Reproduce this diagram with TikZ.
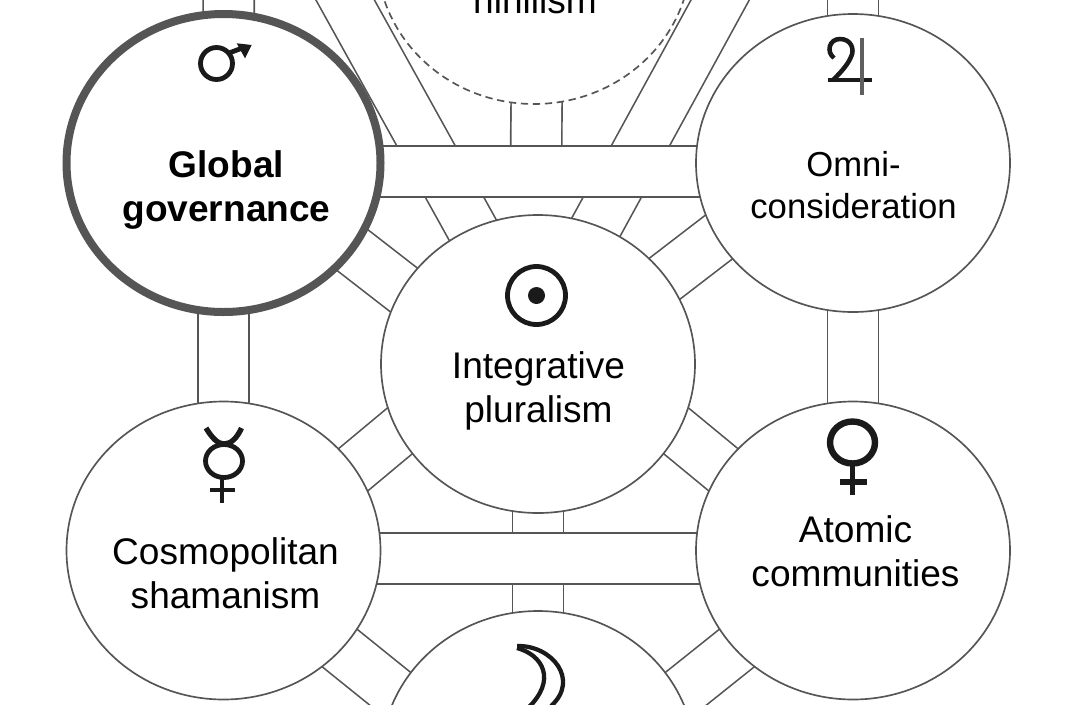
\documentclass[tikz,border=0pt]{standalone}
\usepackage{fontspec}
\setmainfont{Liberation Sans}
\usetikzlibrary{shapes.geometric,backgrounds}
\definecolor{linegray}{HTML}{555555}
\definecolor{signblack}{HTML}{1A1A1A}
\tikzset{
  planet/.style={ellipse, draw=linegray, fill=white, line width=1.25pt, inner sep=0pt, outer sep=0pt, minimum width=235.5pt, minimum height=223.5pt},
  channel/.style={draw=linegray, line width=1.25pt, double=white, double distance=37pt, shorten <=-20pt, shorten >=-20pt},
  caption/.style={align=center, inner sep=0pt, font=\fontsize{27.8}{33}\selectfont},
  sign/.style={draw=signblack, line width=3.6pt}
}
\begin{document}
\begin{tikzpicture}[x=0.75pt, y=-0.75pt]
            \useasboundingbox (0,0) rectangle (1070,704);
            \clip (0,0) rectangle (1070,704);

            % Nodes
            \node[planet, dashed, dash pattern=on 5.5pt off 3.5pt] (nihilism) at (534,-45) {};
            \node[planet, line width=6pt] (global) at (223.5,163) {};
            \node[planet] (omni) at (853,163) {};
            \node[planet] (integrative) at (538,364) {};
            \node[planet] (cosmo) at (223.5,550.5) {};
            \node[planet] (atomic) at (853,550.5) {};
            \node[planet] (bottom) at (538,760) {};

            % Free ends
            \coordinate (globalfree) at (228.7,-30);
            \coordinate (omnifree) at (853,-30);
            \coordinate (leftfree) at (323,-40);
            \coordinate (rightfree) at (742,-40);
            \coordinate (nihilismfoot) at (536,160);

            % Edges
            \begin{scope}[on background layer]
            \draw[channel] (globalfree) -- (global.88);
            \draw[channel] (omnifree) -- (omni.north);
            \draw[channel] (leftfree) -- (integrative.116);
            \draw[channel] (rightfree) -- (integrative.67);
            \draw[channel] (nihilism.-89) -- (nihilismfoot);
            \draw[channel] (global.-34) -- (integrative.151);
            \draw[channel] (omni.-151) -- (integrative.34);
            \draw[channel] (cosmo.32) -- (integrative.206);
            \draw[channel] (atomic.148) -- (integrative.-26);
            \draw[channel] (cosmo.-40) -- (bottom.155);
            \draw[channel] (atomic.-140) -- (bottom.25);
            \draw[channel] (integrative.south) -- (bottom.north);
            \draw[channel] (global.south) -- (cosmo.north);
            \draw[channel] (omni.south) -- (atomic.north);
            \draw[channel] (global.-3) -- (omni.183);
            \draw[channel] (cosmo.-3) -- (atomic.183);
            \end{scope}

            % Labels
            \node[caption, anchor=base] (nihilismtext) at (535,13) {nihilism};
            \node[caption, font=\fontsize{27.8}{33}\selectfont\bfseries] (globaltext) at (226.5,189.5) {Global\\governance};
            \node[caption, font=\fontsize{26}{31.5}\selectfont] (omnitext) at (853.5,185.5) {Omni-\\consideration};
            \node[caption] (integrativetext) at (538.5,391) {Integrative\\pluralism};
            \node[caption] (cosmotext) at (225.5,573.5) {Cosmopolitan\\shamanism};
            \node[caption] (atomictext) at (855.5,551.5) {Atomic\\communities};

            % Mars
            \draw[sign] (216.5,63.5) circle (16);
            \draw[sign] (229,53) -- (245,47);
            \fill[signblack] (236.7,43.3) -- (251.7,45) -- (245,58.3) -- cycle;

            % Jupiter
            \draw[sign, line width=3.4pt] (834,58) .. controls (826,52) and (829,39) .. (840,39) .. controls (851,39) and (855,49) .. (851,57) .. controls (847,66) and (840,73) .. (833,80);
            \draw[sign, line width=2.6pt] (828,80) -- (872,80);
            \draw[sign, line width=3pt, draw=signblack!70] (861.7,38) -- (861.7,95);

            % Sun
            \draw[sign] (536.5,295.5) circle (29);
            \fill[signblack] (536.5,295.5) circle (8.5);

            % Mercury
            \draw[sign, line width=4pt] (206,428) .. controls (212,438) and (218,444) .. (224,444) .. controls (231,444) and (237,438) .. (241.5,428);
            \draw[sign] (224,461) ellipse (18.5 and 16.5);
            \draw[sign, line width=3pt] (222,478) -- (222,503);
            \draw[sign, line width=3pt] (210,490) -- (235,490);

            % Venus
            \draw[sign, line width=4.8pt] (852.5,442.5) ellipse (22.5 and 21);
            \draw[sign, line width=3.4pt] (852.7,466) -- (852.7,495);
            \draw[sign, line width=4.4pt] (840,481.7) -- (866.7,481.7);

            % Moon
            \draw[sign, line width=3.2pt] (517,646) .. controls (552,645) and (580,680) .. (551,706);
            \draw[sign, line width=3.2pt] (517,648) .. controls (543,655) and (557,680) .. (528,708);
        \end{tikzpicture}
\end{document}
